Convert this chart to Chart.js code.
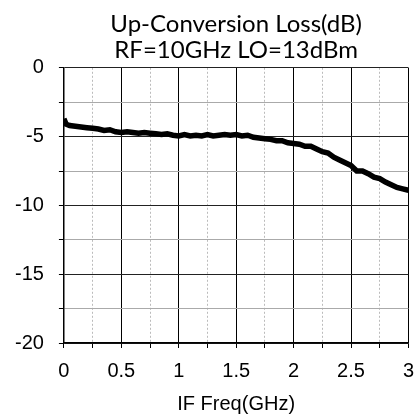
<!DOCTYPE html>
<html>
<head>
<meta charset="utf-8">
<script src="https://cdn.jsdelivr.net/npm/chart.js@4.4.1/dist/chart.umd.min.js"></script>
<style>
  html, body { margin: 0; padding: 0; background: #fff; }
  #wrap { width: 414px; height: 419px; }
</style>
</head>
<body>
<div id="wrap"><canvas id="lossChart" width="414" height="419"></canvas></div>
<script>
const freqGHz = [0, 0.02, 0.05, 0.1, 0.15, 0.2, 0.25, 0.3, 0.35, 0.4, 0.45, 0.5, 0.55, 0.6, 0.65, 0.7,
  0.75, 0.8, 0.85, 0.9, 0.95, 1.0, 1.05, 1.1, 1.15, 1.2, 1.25, 1.3, 1.35, 1.4, 1.45, 1.5, 1.55, 1.6,
  1.65, 1.7, 1.75, 1.8, 1.85, 1.9, 1.95, 2.0, 2.05, 2.1, 2.15, 2.2, 2.25, 2.3, 2.35, 2.4, 2.45, 2.5,
  2.55, 2.6, 2.65, 2.7, 2.75, 2.8, 2.85, 2.9, 2.95, 3.0];
const lossDb = [-3.7, -4.1, -4.2, -4.25, -4.3, -4.35, -4.4, -4.45, -4.55, -4.5, -4.65, -4.7, -4.65, -4.7, -4.75, -4.7,
  -4.75, -4.8, -4.85, -4.8, -4.9, -4.95, -4.85, -4.95, -4.9, -4.95, -4.85, -4.95, -4.9, -4.85, -4.9, -4.85, -4.95, -4.9,
  -5.05, -5.1, -5.15, -5.2, -5.3, -5.3, -5.45, -5.5, -5.55, -5.7, -5.7, -5.9, -6.1, -6.2, -6.5, -6.7, -6.9, -7.1,
  -7.5, -7.5, -7.7, -7.95, -8.05, -8.3, -8.5, -8.7, -8.8, -8.9];
const xTickLabels = ['0', '0.5', '1', '1.5', '2', '2.5', '3'];
const yTickLabels = ['0', '-5', '-10', '-15', '-20'];

const tickFont = { family: 'Liberation Sans', size: 20 };
const isMajorX = v => xTickLabels.includes(String(v));
const isMajorY = v => yTickLabels.includes(String(v));

new Chart(document.getElementById('lossChart').getContext('2d'), {
    type: 'line',
    data: {
        datasets: [{
            data: freqGHz.map((f, i) => ({ x: f, y: lossDb[i] })),
            borderColor: '#000', borderWidth: 5.5, pointRadius: 0, tension: 0, fill: false
        }]
    },
    options: {
        responsive: false, animation: false,
        layout: { padding: 0 },
        plugins: {
            legend: { display: false },
            tooltip: { enabled: false },
            title: {
                display: true, fullSize: false, color: '#000',
                text: ['Up-Conversion Loss(dB)', 'RF=10GHz LO=13dBm'],
                font: { family: 'Lato', size: 24, weight: 'normal', lineHeight: 1.1 },
                padding: { top: 11, bottom: 4 }
            }
        },
        scales: {
            x: {
                type: 'linear', min: 0, max: 3,
                ticks: {
                    stepSize: 0.25, autoSkip: false, maxRotation: 0, color: '#000', padding: 0,
                    font: { family: 'Liberation Sans', size: 20, lineHeight: 2.3 },
                    callback: v => isMajorX(v) ? String(v) : ''
                },
                grid: {
                    color: ctx => isMajorX(ctx.tick.value) ? '#000' : '#bbb',
                    lineWidth: 1, tickColor: '#000', tickLength: 5
                },
                // dotted minor verticals
                border: { color: '#000', width: 1.5, dash: ctx => (ctx.tick && !isMajorX(ctx.tick.value)) ? [2, 2] : [] },
                title: { display: true, text: 'IF Freq(GHz)', color: '#000', font: tickFont, padding: { top: -2, bottom: 3 } }
            },
            y: {
                min: -20, max: 0,
                ticks: {
                    stepSize: 2.5, autoSkip: false, color: '#000', font: tickFont, padding: 15,
                    callback: v => isMajorY(v) ? String(v) : ''
                },
                grid: {
                    color: ctx => isMajorY(ctx.tick.value) ? '#222' : '#aaa',
                    lineWidth: 1, tickColor: '#000', tickLength: 5
                },
                border: { color: '#000', width: 1.5 }
            }
        }
    }
});
</script>
</body>
</html>
